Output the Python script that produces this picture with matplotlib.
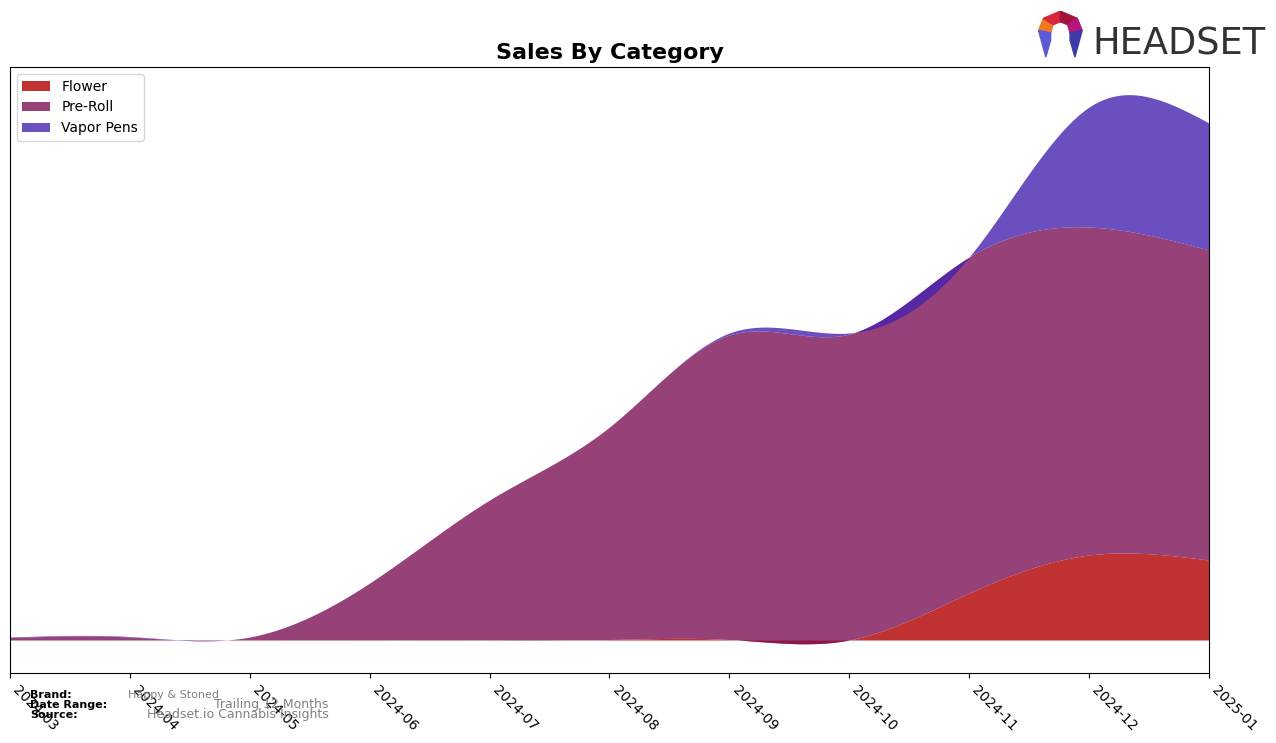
import numpy as np
import matplotlib.pyplot as plt
from matplotlib.patches import Polygon

months = ['2024-03', '2024-04', '2024-05', '2024-06', '2024-07', '2024-08',
          '2024-09', '2024-10', '2024-11', '2024-12', '2025-01']
flower = [0, 0, 0, 0, 0, 0.5, 0.5, 0, 47, 85, 80]
pre_roll = [2.5, 3, 3, 57, 140, 212.5, 304.5, 306, 336, 328, 310]
vapor_pens = [0.5, 0.5, 0, 0, 0, 0, 2, 1, 0, 120, 127]

colors = ['#b20000', '#7c1256', '#4623af']
labels = ['Flower', 'Pre-Roll', 'Vapor Pens']


def smooth(y, x, xd):
    # natural cubic spline, so the areas come out smooth like the original
    y = np.asarray(y, float)
    n = len(x)
    h = np.diff(x)
    A = np.zeros((n, n))
    b = np.zeros(n)
    A[0, 0] = A[-1, -1] = 1
    for i in range(1, n - 1):
        A[i, i - 1] = h[i - 1]
        A[i, i] = 2 * (h[i - 1] + h[i])
        A[i, i + 1] = h[i]
        b[i] = 6 * ((y[i + 1] - y[i]) / h[i] - (y[i] - y[i - 1]) / h[i - 1])
    M = np.linalg.solve(A, b)
    idx = np.clip(np.searchsorted(x, xd) - 1, 0, n - 2)
    x0, x1 = x[idx], x[idx + 1]
    hh = x1 - x0
    t0, t1 = x1 - xd, xd - x0
    return (M[idx] * t0 ** 3 / (6 * hh) + M[idx + 1] * t1 ** 3 / (6 * hh)
            + (y[idx] / hh - M[idx] * hh / 6) * t0
            + (y[idx + 1] / hh - M[idx + 1] * hh / 6) * t1)


x = np.arange(len(months), dtype=float)
xd = np.linspace(0, len(months) - 1, 600)

fig = plt.figure(figsize=(12.76, 7.43), dpi=100)
ax = fig.add_axes([0.0078, 0.0942, 0.9397, 0.8156])

base = np.zeros_like(xd)
for vals, c, lab in zip([flower, pre_roll, vapor_pens], colors, labels):
    s = smooth(vals, x, xd)
    ax.fill_between(xd, base, base + s, color=c, alpha=0.8, lw=0, label=lab)
    base = base + s

ax.set_xlim(0, len(months) - 1)
ax.set_ylim(-33, 573)
ax.set_yticks([])
ax.set_xticks(x)
ax.set_xticklabels(months, rotation=-45, ha='left', fontsize=10)
ax.set_title('Sales By Category', fontsize=16, fontweight='bold', pad=6)
ax.legend(loc='upper left', fontsize=10)

# footer
fig.text(0.0235, 0.061, 'Brand:', fontsize=8, fontweight='bold')
fig.text(0.1, 0.061, 'Happy & Stoned', fontsize=8, color='gray')
fig.text(0.0235, 0.0475, 'Date Range:', fontsize=8, fontweight='bold')
fig.text(0.2575, 0.0475, 'Trailing 12 Months', fontsize=9, color='gray', ha='right')
fig.text(0.0235, 0.034, 'Source:', fontsize=8, fontweight='bold')
fig.text(0.2575, 0.034, 'Headset.io Cannabis Insights', fontsize=9, color='gray', ha='right')

# logo
fig.text(0.856, 0.927, 'HEADSET', fontsize=26.5, color='#333333', family='Liberation Sans Narrow')
logo = fig.add_axes([0.812, 0.92, 0.038, 0.065])
logo.set_xlim(0, 1)
logo.set_ylim(0, 1)
logo.axis('off')
parts = [
    ([(0.05, 0.6), (0.15, 0.85), (0.35, 0.72), (0.3, 0.55)], '#f07a24'),
    ([(0.15, 0.85), (0.5, 1.0), (0.5, 0.78), (0.35, 0.72)], '#d9263a'),
    ([(0.5, 1.0), (0.85, 0.85), (0.65, 0.72), (0.5, 0.78)], '#a0153e'),
    ([(0.85, 0.85), (0.95, 0.6), (0.7, 0.55), (0.65, 0.72)], '#b3177a'),
    ([(0.05, 0.6), (0.3, 0.55), (0.3, 0.4), (0.2, 0.05)], '#5c5ad6'),
    ([(0.95, 0.6), (0.7, 0.55), (0.7, 0.4), (0.8, 0.05)], '#3e3aa8'),
]
for pts, c in parts:
    logo.add_patch(Polygon(pts, closed=True, color=c))

fig.savefig('out.png', dpi=100)
